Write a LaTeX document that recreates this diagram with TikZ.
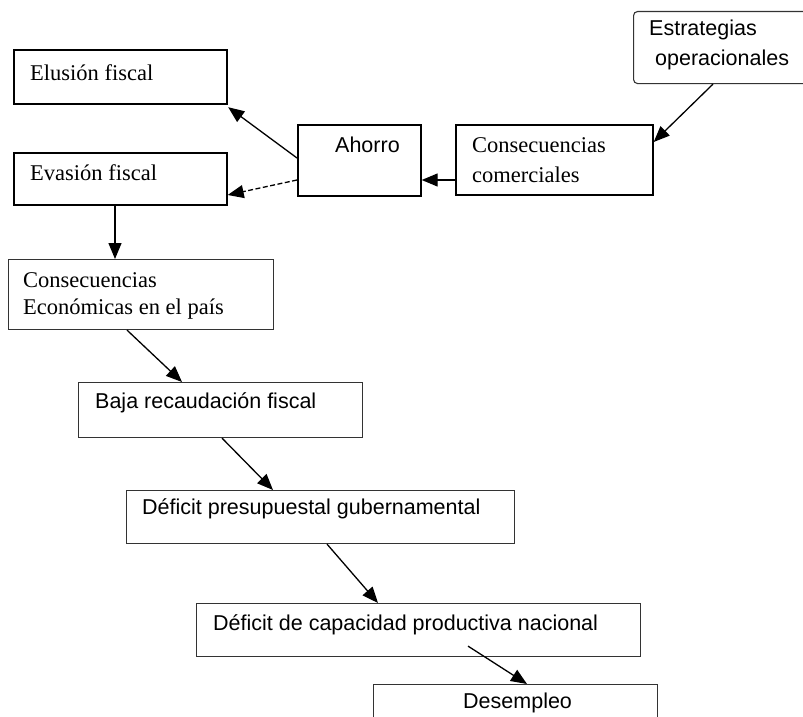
\documentclass[tikz,border=0pt]{standalone}
\usepackage{fontspec}
\setmainfont{Liberation Serif}
\setsansfont{Liberation Sans}
\usetikzlibrary{arrows.meta}
\begin{document}
\begin{tikzpicture}[x=1pt,y=-1pt,
  box/.style={draw=black!80, line width=1.1pt, inner sep=0pt, anchor=north west},
  heavy/.style={draw=black, line width=2.2pt},
  medium/.style={draw=black, line width=1.7pt},
  serif/.style={font=\fontsize{22.5}{27}\selectfont, anchor=west, inner sep=0pt, align=left},
  sans/.style={font=\sffamily\fontsize{21.5}{30}\selectfont, anchor=west, inner sep=0pt, align=left},
  link/.style={line width=1.3pt, -{Triangle[length=16pt,width=13pt]}},
]
\useasboundingbox (0,0) rectangle (803,717);
\clip (0,0) rectangle (803,717);

% boxes
\node[box, rounded corners=4pt, minimum width=178pt, minimum height=72pt] (estrategias) at (633,11) {};
\node[box, medium, minimum width=197pt, minimum height=70pt] (comerciales) at (455,124) {};
\node[box, medium, minimum width=123pt, minimum height=71pt] (ahorro) at (297,124) {};
\node[box, heavy, minimum width=213pt, minimum height=54pt] (elusion) at (13,49) {};
\node[box, medium, minimum width=213pt, minimum height=52pt] (evasion) at (13,152) {};
\node[box, minimum width=265pt, minimum height=70pt] (economicas) at (8,259) {};
\node[box, minimum width=284pt, minimum height=55pt] (baja) at (78,382) {};
\node[box, minimum width=388pt, minimum height=53pt] (presupuestal) at (126,490) {};
\node[box, minimum width=444pt, minimum height=53pt] (capacidad) at (196,603) {};
\node[box, minimum width=284pt, minimum height=60pt] (desempleo) at (373,684) {};

% labels
\node[sans] (estrategiasT) at (649,45) {Estrategias\\\hspace*{6pt}operacionales};
\node[serif, font=\fontsize{22.5}{30}\selectfont] (comercialesT) at (472,160) {Consecuencias\\comerciales};
\node[sans] (ahorroT) at (335,145) {Ahorro};
\node[serif] (elusionT) at (30,73) {Elusión fiscal};
\node[serif] (evasionT) at (30,173) {Evasión fiscal};
\node[serif] (economicasT) at (23,296) {Consecuencias\\Económicas en el país};
\node[sans] (bajaT) at (95,403) {Baja recaudación fiscal};
\node[sans] (presupuestalT) at (142,509) {Déficit presupuestal gubernamental};
\node[sans] (capacidadT) at (213,625) {Déficit de capacidad productiva nacional};
\node[sans] (desempleoT) at (463,703) {Desempleo};

% connectors
\draw[link] ([xshift=80pt]estrategias.south west) -- ([yshift=-18pt]comerciales.north east);
\draw[link] ([yshift=-56pt]comerciales.north west) -- ([yshift=-56pt]ahorro.north east);
\draw[link] ([yshift=-34pt]ahorro.north west) -- ([yshift=-2pt]elusion.south east);
\draw[link, dash pattern=on 5pt off 2.5pt] ([yshift=-56pt]ahorro.north west) -- ([yshift=-43pt]evasion.north east);
\draw[link] ([xshift=102pt]evasion.south west) -- ([xshift=107pt]economicas.north west);
\draw[link] ([xshift=119pt]economicas.south west) -- ([xshift=104pt]baja.north west);
\draw[link] ([xshift=144pt]baja.south west) -- ([xshift=147pt]presupuestal.north west);
\draw[link] ([xshift=201pt]presupuestal.south west) -- ([xshift=182pt]capacidad.north west);
\draw[link] ([xshift=272pt,yshift=11pt]capacidad.south west) -- ([xshift=154pt]desempleo.north west);
\end{tikzpicture}
\end{document}
